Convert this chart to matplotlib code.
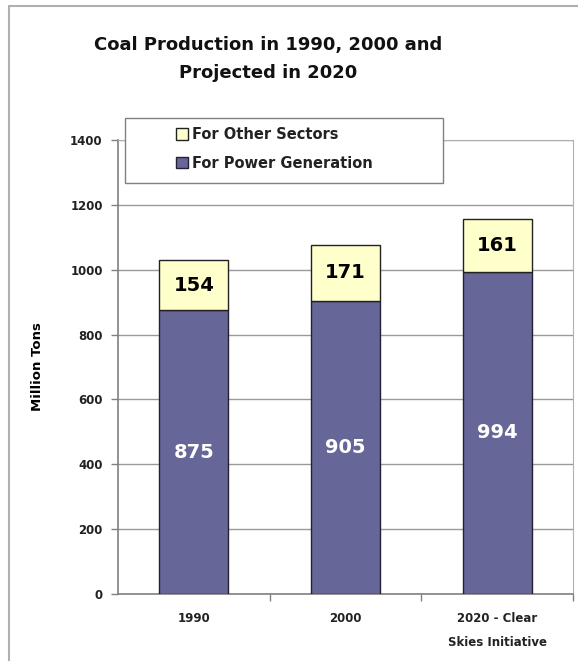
"""
Coal production in 1990, 2000 and projected 2020, stacked bars.
"""
import matplotlib
matplotlib.use("Agg")
import matplotlib.pyplot as plt
from matplotlib.patches import Rectangle

CATEGORIES = ["1990", "2000", "2020 - Clear\nSkies Initiative"]
POWER_GENERATION = [875, 905, 994]
OTHER_SECTORS = [154, 171, 161]
Y_TICKS = [0, 200, 400, 600, 800, 1000, 1200, 1400]

POWER_COLOR = "#666699"
OTHER_COLOR = "#FFFFCC"

plt.rcParams["font.family"] = ["DejaVu Sans"]
plt.rcParams["font.weight"] = "bold"

fig = plt.figure(figsize=(5.78, 6.61), dpi=100)
ax = fig.add_axes([118 / 578, 1 - 594 / 661, 455 / 578, 454 / 661])

# outer frame of the picture
fig.patches.append(Rectangle((9 / 578, -0.01), 1.0, 1 - 6 / 661 + 0.01,
                             transform=fig.transFigure, fill=False,
                             edgecolor="#b0b0b0", linewidth=1.5))

x = range(len(CATEGORIES))
ax.bar(x, POWER_GENERATION, width=0.455, color=POWER_COLOR,
       edgecolor="#222233", linewidth=1, zorder=3, label="For Power Generation")
ax.bar(x, OTHER_SECTORS, width=0.455, bottom=POWER_GENERATION, color=OTHER_COLOR,
       edgecolor="#222222", linewidth=1, zorder=3, label="For Other Sectors")

for i in x:
    ax.text(i, POWER_GENERATION[i] / 2, str(POWER_GENERATION[i]), color="white",
            ha="center", va="center", fontsize=14, fontweight="bold", zorder=4)
    ax.text(i, POWER_GENERATION[i] + OTHER_SECTORS[i] / 2, str(OTHER_SECTORS[i]),
            color="black", ha="center", va="center", fontsize=14,
            fontweight="bold", zorder=4)

ax.set_xlim(-0.5, 2.5)
ax.set_ylim(0, 1400)
ax.set_yticks(Y_TICKS)
ax.set_yticklabels([str(v) for v in Y_TICKS], fontsize=8.5, color="#222222")
ax.set_xticks(list(x))
ax.set_xticklabels(CATEGORIES, fontsize=8.5, color="#222222", linespacing=2.1)
ax.tick_params(axis="x", length=0, pad=13)
ax.tick_params(axis="y", length=5, width=1, color="#808080", pad=6)
ax.set_xticks([0.5, 1.5, 2.5], minor=True)
ax.tick_params(axis="x", which="minor", length=5, width=1, color="#808080")
ax.set_ylabel("Million Tons", fontsize=9.5, fontweight="bold", labelpad=19)

ax.grid(axis="y", color="#9a9a9a", linewidth=1, zorder=0)
for side in ["top", "right"]:
    ax.spines[side].set_color("#b0b0b0")
for side in ["left", "bottom"]:
    ax.spines[side].set_color("#808080")
    ax.spines[side].set_linewidth(1.2)

# legend box drawn on its own, entries placed toward its middle
ax.add_patch(Rectangle((7 / 455, (594 - 183) / 454), 318 / 455, 65 / 454,
                       transform=ax.transAxes, facecolor="white",
                       edgecolor="#808080", linewidth=1, clip_on=False, zorder=5))
handles, labels = ax.get_legend_handles_labels()
leg = ax.legend(handles[::-1], labels[::-1], loc="upper left",
                bbox_to_anchor=((176 - 118) / 455, (594 - 127) / 454),
                bbox_transform=ax.transAxes, frameon=False,
                fontsize=10.5, handlelength=0.8, handleheight=0.8,
                handletextpad=0.3, borderpad=0, labelspacing=0.95,
                borderaxespad=0)
leg.set_zorder(6)
for t in leg.get_texts():
    t.set_color("#222222")

fig.text(268 / 578, 1 - 45 / 661, "Coal Production in 1990, 2000 and",
         ha="center", va="center", fontsize=13, fontweight="bold", color="#111111")
fig.text(268 / 578, 1 - 73 / 661, "Projected in 2020", ha="center",
         va="center", fontsize=13, fontweight="bold", color="#111111")

fig.savefig("out.png", dpi=100)
